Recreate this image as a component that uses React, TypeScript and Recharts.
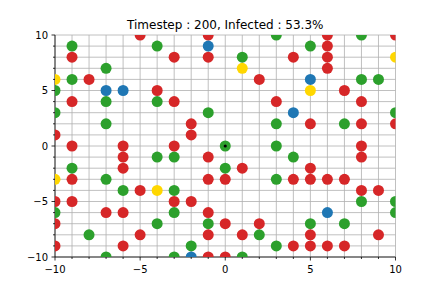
import { ScatterChart, Scatter, XAxis, YAxis, CartesianGrid } from 'recharts';

type Pt = [number, number];

const TITLE = 'Timestep : 200, Infected : 53.3%';
const AXIS_TICKS = [-10, -9, -8, -7, -6, -5, -4, -3, -2, -1, 0, 1, 2, 3, 4, 5, 6, 7, 8, 9, 10];

const infected: Pt[] = [
  [-5, 10], [-1, 10], [-9, 8], [-3, 8], [-1, 8], [-8, 6], [-4, 5], [-9, 4], [-3, 4], [-2, 2],
  [-10, 1], [-2, 1], [-9, 0], [-6, 0], [-3, 0],
  [6, 10], [10, 10], [6, 9], [4, 8], [6, 8], [6, 7], [2, 6], [7, 5], [3, 4], [8, 4],
  [5, 2], [8, 2], [10, 2], [8, 0],
  [-6, -1], [-1, -1], [-6, -2], [-9, -3], [-1, -3], [0, -3], [-5, -4], [-10, -5], [-9, -5],
  [-3, -5], [-2, -5], [-7, -6], [-6, -6], [-1, -6], [-10, -7], [0, -7], [-5, -8], [-1, -8],
  [-10, -9], [-6, -9], [-1, -10], [0, -10],
  [8, -1], [1, -2], [5, -2], [4, -3], [5, -3], [6, -3], [7, -3], [8, -4], [9, -4], [2, -7],
  [1, -8], [5, -8], [9, -8], [4, -9], [5, -9], [6, -9], [7, -9],
];

const healthy: Pt[] = [
  [-9, 9], [-4, 9], [-7, 7], [-9, 6], [-10, 5], [-7, 4], [-4, 4], [-10, 3], [-1, 3], [-7, 2], [0, 0],
  [3, 10], [8, 10], [5, 9], [1, 8], [8, 6], [9, 6], [10, 3], [3, 2], [7, 2], [3, 0],
  [-4, -1], [-3, -1], [-9, -2], [0, -2], [-7, -3], [-6, -4], [-3, -4], [-10, -6], [-3, -6],
  [-4, -7], [-1, -7], [-8, -8], [-2, -9], [-7, -10], [-3, -10],
  [4, -1], [3, -3], [8, -5], [10, -5], [10, -6], [5, -7], [7, -7], [2, -8], [3, -9], [1, -10],
];

const recovered: Pt[] = [
  [-1, 9], [-7, 5], [-6, 5], [5, 6], [4, 3], [6, -6], [-2, -10],
];

const immune: Pt[] = [
  [-10, 6], [10, 8], [1, 7], [5, 5], [-10, -3], [-4, -4],
];

const patientZero: Pt[] = [[0, 0]];

const toRows = (pts: Pt[]) => pts.map(([x, y]) => ({ x, y }));

const fmt = (v: number) => (v < 0 ? '\u2212' + Math.abs(v) : String(v));

const dot = (color: string, r: number) => (p: any) =>
  <circle cx={p.cx} cy={p.cy} r={r} fill={color} />;

function XTick({ x, y, payload }: any) {
  const major = payload.value % 5 === 0;
  return (
    <g>
      <line x1={x} x2={x} y1={y} y2={y + (major ? 3.5 : 2)} stroke="#000" strokeWidth={0.8} />
      {major && (
        <text x={x} y={y + 15.5} textAnchor="middle" fontSize={10} fill="#000"
          fontFamily="DejaVu Sans">{fmt(payload.value)}</text>
      )}
    </g>
  );
}

function YTick({ x, y, payload }: any) {
  const major = payload.value % 5 === 0;
  return (
    <g>
      <line x1={x} x2={x - (major ? 3.5 : 2)} y1={y} y2={y} stroke="#000" strokeWidth={0.8} />
      {major && (
        <text x={x - 7} y={y + 3.6} textAnchor="end" fontSize={10} fill="#000"
          fontFamily="DejaVu Sans">{fmt(payload.value)}</text>
      )}
    </g>
  );
}

export default function App() {
  return (
    <div style={{ position: 'absolute', left: 0, top: 0, width: 440, height: 294, background: '#fff' }}>
      <div style={{
        position: 'absolute', left: 55, top: 18.5, width: 340.5, textAlign: 'center',
        fontFamily: 'DejaVu Sans', fontSize: 12, lineHeight: '12px', color: '#000',
      }}>
        {TITLE}
      </div>
      <ScatterChart width={440} height={294} margin={{ top: 35, right: 44.5, bottom: 7, left: 25 }}>
        <CartesianGrid stroke="#b0b0b0" strokeWidth={0.8} />
        <XAxis type="number" dataKey="x" domain={[-10, 10]} ticks={AXIS_TICKS} interval={0}
          allowDataOverflow height={30} tickSize={0} tickMargin={0} tickLine={false}
          axisLine={{ stroke: '#000', strokeWidth: 0.8 }} tick={<XTick />} />
        <YAxis type="number" dataKey="y" domain={[-10, 10]} ticks={AXIS_TICKS} interval={0}
          allowDataOverflow width={30} tickSize={0} tickMargin={0} tickLine={false}
          axisLine={{ stroke: '#000', strokeWidth: 0.8 }} tick={<YTick />} />
        <XAxis xAxisId="top" orientation="top" type="number" dataKey="x" domain={[-10, 10]}
          height={0} tick={false} tickLine={false} axisLine={{ stroke: '#000', strokeWidth: 0.8 }} />
        <YAxis yAxisId="right" orientation="right" type="number" dataKey="y" domain={[-10, 10]}
          width={0} tick={false} tickLine={false} axisLine={{ stroke: '#000', strokeWidth: 0.8 }} />
        <Scatter data={toRows(healthy)} shape={dot('#2ca02c', 5.5)} isAnimationActive={false} />
        <Scatter data={toRows(infected)} shape={dot('#d62728', 5.5)} isAnimationActive={false} />
        <Scatter data={toRows(recovered)} shape={dot('#1f77b4', 5.5)} isAnimationActive={false} />
        <Scatter data={toRows(immune)} shape={dot('#ffd700', 5.5)} isAnimationActive={false} />
        <Scatter data={toRows(patientZero)} shape={dot('#000', 1.6)} isAnimationActive={false} />
      </ScatterChart>
    </div>
  );
}
